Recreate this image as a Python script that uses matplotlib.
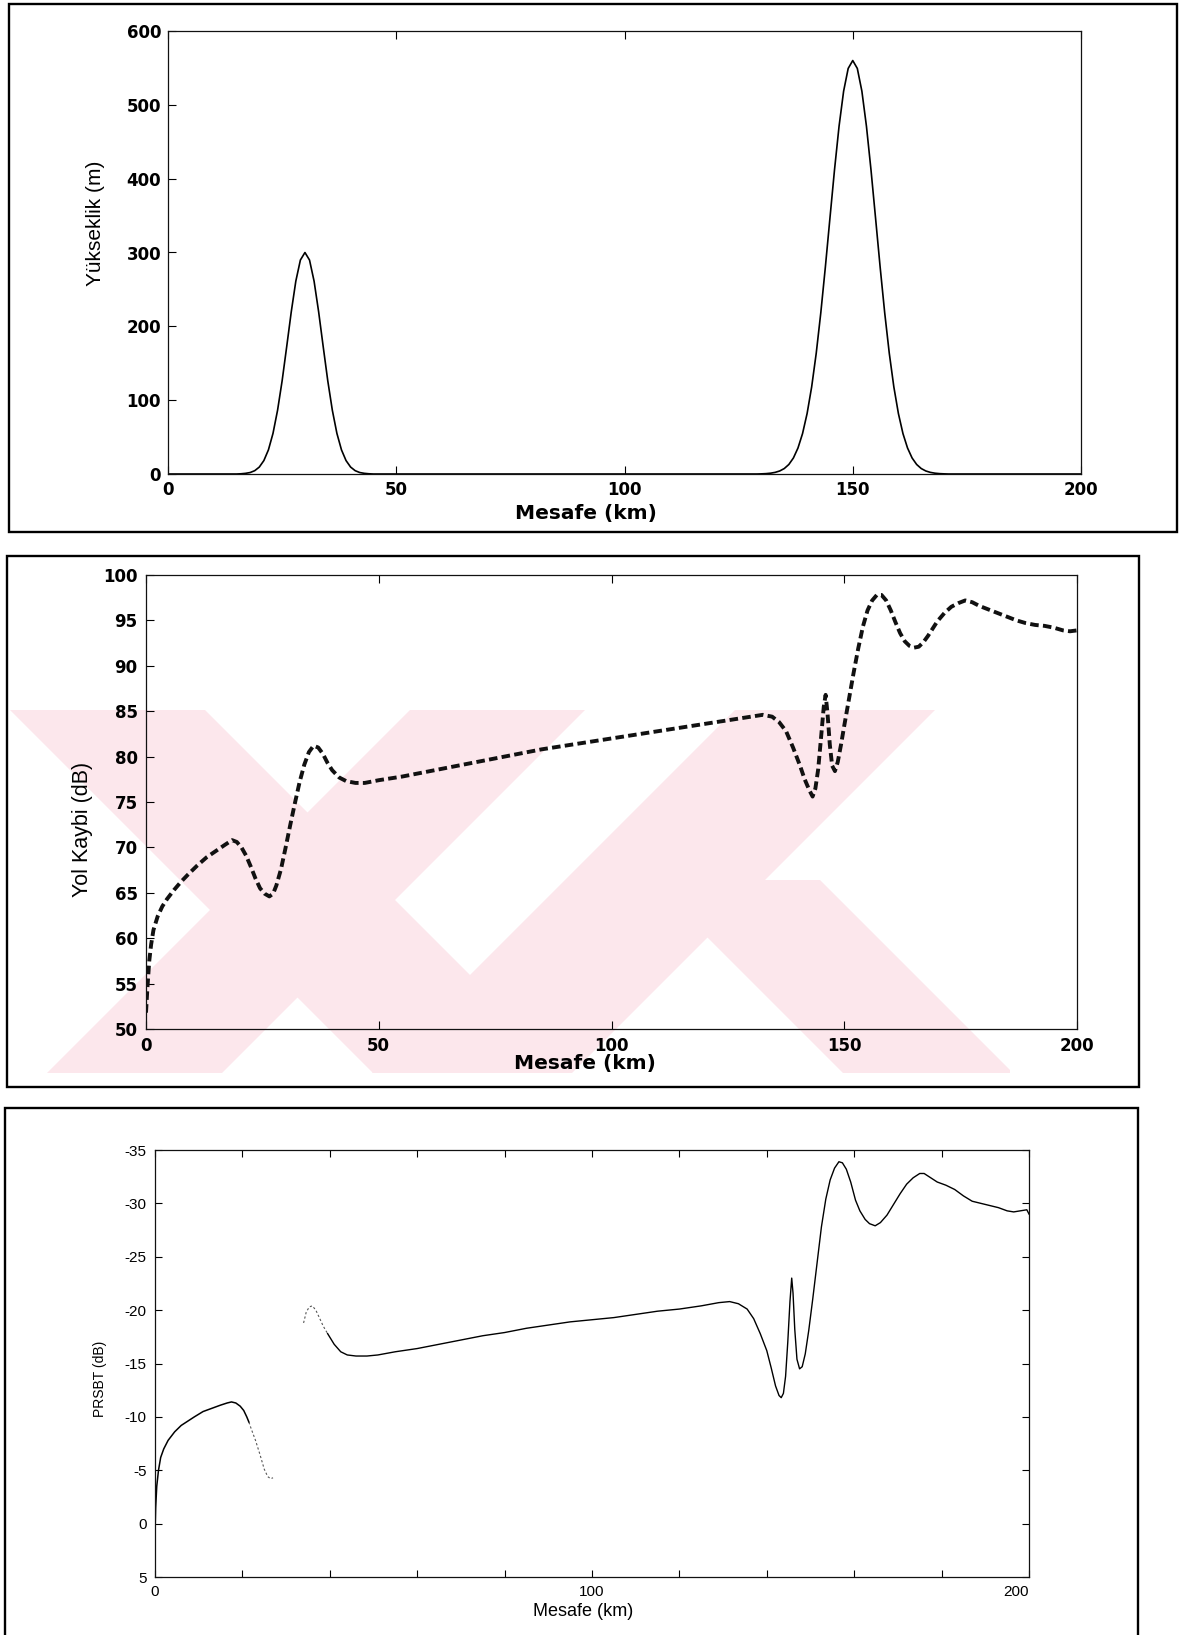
import matplotlib
matplotlib.use("Agg")
import matplotlib.pyplot as plt
import matplotlib.transforms as mtransforms
from matplotlib.patches import Rectangle, Polygon
from matplotlib import font_manager
from matplotlib.ticker import FixedLocator, NullFormatter

plt.rcParams['axes.unicode_minus'] = False

W, H, DPI = 1188, 1635, 100

# ---------------- data ----------------
# Terrain profile: distance (km) and elevation (m)
terrain_km = [0, 10, 15, 16, 17, 18, 19, 20, 21, 22, 23, 24, 25, 26, 27, 28, 29, 30,
              31, 32, 33, 34, 35, 36, 37, 38, 39, 40, 41, 42, 43, 44, 45, 60, 100, 125, 129,
              130, 131, 132, 133, 134, 135, 136, 137, 138, 139, 140, 141, 142, 143, 144,
              145, 146, 147, 148, 149, 150, 151, 152, 153, 154, 155, 156, 157, 158, 159,
              160, 161, 162, 163, 164, 165, 166, 167, 168, 169, 170, 171, 180, 200]
terrain_m = [0, 0, 0, 0.3, 0.9, 2.0, 4.5, 9.4, 18.2, 32.7, 55.0, 86.3, 126.2, 172.4, 219.6,
             261.2, 289.8, 300, 289.8, 261.2, 219.6, 172.4, 126.2, 86.3, 55.0, 32.7, 18.2,
             9.4, 4.5, 2.0, 0.9, 0.3, 0, 0, 0, 0, 0,
             0.2, 0.5, 1.1, 2.2, 4.1, 7.4, 12.9, 21.7, 35.2, 54.7, 81.9, 118.0, 163.6,
             218.3, 280.3, 346.3, 411.7, 471.0, 518.5, 549.3, 560, 549.3, 518.5, 471.0,
             411.7, 346.3, 280.3, 218.3, 163.6, 118.0, 81.9, 54.7, 35.2, 21.7, 12.9, 7.4,
             4.1, 2.2, 1.1, 0.5, 0.2, 0, 0, 0]

# Path loss along the path: distance (km) and loss (dB)
loss_km = [0.0, 0.3, 0.7, 1.1, 1.6, 2.5, 3.5, 4.5, 6.0, 7.5, 9.0, 11.0, 13.0, 15.0, 17.0,
           18.5, 19.5, 20.5, 21.5, 22.5, 23.5, 24.5, 25.5, 26.5, 27.3, 28.0, 29.0, 30.0,
           31.0, 32.0, 33.0, 34.0, 35.0, 36.0, 37.0, 38.0, 39.0, 40.0, 41.5, 43.0, 45.0,
           47.0, 50.0, 55.0, 60.0, 65.0, 70.0, 75.0, 80.0, 85.0, 90.0, 95.0, 100.0, 105.0,
           110.0, 115.0, 120.0, 125.0, 130.0, 132.5, 134.5, 136.0, 137.5, 139.0, 140.5,
           141.5, 142.5, 143.2, 143.8, 144.4, 145.0, 145.6, 146.0, 146.4, 146.9, 147.4,
           148.0, 148.6, 149.3, 150.0, 151.0, 152.0, 153.0, 154.0, 155.0, 156.0, 157.0,
           158.0, 159.0, 160.0, 161.0, 162.0, 163.0, 164.0, 165.0, 166.0, 167.0, 168.0,
           169.0, 170.0, 171.5, 173.0, 174.5, 176.0, 177.5, 179.0, 181.0, 183.0, 185.0,
           187.0, 189.0, 191.0, 193.0, 195.0, 197.0, 198.5, 200.0]
loss_db = [51.8, 54.5, 57.5, 59.3, 60.9, 62.4, 63.5, 64.3, 65.3, 66.2, 67.0, 68.0, 68.9,
           69.6, 70.3, 70.8, 70.6, 70.0, 69.1, 67.9, 66.6, 65.5, 64.9, 64.6, 64.9, 65.8,
           67.6, 70.0, 72.5, 74.9, 77.2, 79.1, 80.5, 81.2, 81.0, 80.3, 79.3, 78.5, 77.7,
           77.3, 77.1, 77.1, 77.4, 77.8, 78.3, 78.8, 79.3, 79.8, 80.3, 80.8, 81.2, 81.6,
           82.0, 82.4, 82.8, 83.2, 83.6, 84.0, 84.4, 84.6, 84.4, 83.8, 82.8, 81.0, 79.0,
           77.5, 76.3, 75.6, 76.5, 78.6, 82.0, 85.5, 86.8, 84.8, 81.3, 79.0, 78.4, 79.4,
           81.3, 83.4, 86.3, 89.2, 91.9, 94.3, 96.1, 97.2, 97.8, 97.8, 97.2, 96.1, 94.8,
           93.6, 92.7, 92.2, 92.0, 92.1, 92.6, 93.3, 94.1, 94.9, 95.8, 96.5, 96.9, 97.2,
           97.0, 96.6, 96.2, 95.8, 95.4, 95.0, 94.7, 94.5, 94.4, 94.2, 93.9, 93.8, 93.9]

# PRSBT (dB): solid near-path part, faint parts and the main far part
prsbt_near_km = [0.0, 0.15, 0.4, 0.8, 1.3, 2.0, 3.0, 4.5, 6.0, 7.5, 9.0, 11.0, 13.0, 15.0,
                 16.5, 17.5, 18.5, 19.5, 20.3, 21.0, 21.5]
prsbt_near_db = [1.0, -1.5, -3.5, -5.0, -6.2, -7.0, -7.8, -8.6, -9.2, -9.6, -10.0, -10.5,
                 -10.8, -11.1, -11.3, -11.4, -11.3, -11.0, -10.6, -10.0, -9.5]
prsbt_fade1_km = [21.5, 22.0, 23.0, 24.0, 25.0, 25.8, 26.5, 27.0]
prsbt_fade1_db = [-9.5, -8.9, -7.8, -6.5, -5.1, -4.4, -4.2, -4.3]
prsbt_fade2_km = [34.0, 34.6, 35.3, 36.0, 36.8, 37.6, 38.5, 39.5]
prsbt_fade2_db = [-18.8, -19.8, -20.3, -20.4, -20.0, -19.3, -18.5, -17.8]
prsbt_far_km = [39.5, 41.0, 42.5, 44.0, 46.0, 48.5, 51.0, 55.0, 60.0, 65.0, 70.0, 75.0,
                80.0, 85.0, 90.0, 95.0, 100.0, 105.0, 110.0, 115.0, 120.0, 125.0, 129.0,
                131.5, 133.5, 135.5, 137.0, 138.5, 140.0, 141.0, 142.0, 142.8, 143.3,
                143.8, 144.3, 144.8, 145.3, 145.7, 146.0, 146.4, 146.9, 147.5, 148.1,
                148.8, 149.6, 150.5, 151.5, 152.5, 153.5, 154.5, 155.5, 156.5, 157.3,
                158.2, 159.2, 160.3, 161.3, 162.5, 163.5, 164.8, 166.0, 167.5, 169.0,
                170.5, 172.0, 173.5, 175.0, 176.0, 177.5, 179.0, 181.0, 183.0, 185.0,
                187.0, 189.0, 191.0, 193.0, 195.0, 196.5, 198.0, 199.5, 200.0]
prsbt_far_db = [-17.8, -16.8, -16.1, -15.8, -15.7, -15.7, -15.8, -16.1, -16.4, -16.8,
                -17.2, -17.6, -17.9, -18.3, -18.6, -18.9, -19.1, -19.3, -19.6, -19.9,
                -20.1, -20.4, -20.7, -20.8, -20.6, -20.1, -19.2, -17.8, -16.2, -14.6,
                -12.9, -12.0, -11.8, -12.2, -13.8, -17.0, -20.8, -23.0, -21.6, -18.2,
                -15.4, -14.5, -14.7, -15.9, -18.1, -21.0, -24.4, -27.8, -30.4, -32.2,
                -33.3, -33.9, -33.8, -33.2, -32.0, -30.3, -29.3, -28.5, -28.1, -27.9,
                -28.2, -28.9, -29.9, -30.9, -31.8, -32.4, -32.8, -32.8, -32.4, -32.0,
                -31.7, -31.3, -30.7, -30.2, -30.0, -29.8, -29.6, -29.3, -29.2, -29.3,
                -29.4, -29.0]

dist_ticks = [0, 50, 100, 150, 200]
height_ticks = [0, 100, 200, 300, 400, 500, 600]
loss_ticks = [50, 55, 60, 65, 70, 75, 80, 85, 90, 95, 100]
prsbt_ticks = [-35, -30, -25, -20, -15, -10, -5, 0, 5]
prsbt_major_x = [0, 100, 200]
prsbt_minor_x = [20, 40, 60, 80, 120, 140, 160, 180]


# ---------------- helpers ----------------
def pick_family(names, default):
    for name in names:
        try:
            font_manager.findfont(font_manager.FontProperties(family=name),
                                  fallback_to_default=False)
            return name
        except Exception:
            continue
    return default


NARROW = pick_family(['Liberation Sans Narrow', 'DejaVu Sans Condensed'], 'Liberation Sans')
WIDE = 'DejaVu Sans'
PLAIN = 'Liberation Sans'


def px_rect(left, top, right, bottom):
    return [left / W, 1 - bottom / H, (right - left) / W, (bottom - top) / H]


def px_pt(x, y):
    return (x / W, 1 - y / H)


fig = plt.figure(figsize=(W / DPI, H / DPI), dpi=DPI)
fig.patch.set_facecolor('white')

# faint pink emblem behind the middle panel
pink = '#fce7ec'
clip = Rectangle(px_pt(8, 1073), (1010 - 8) / W, (1073 - 710) / H,
                 transform=fig.transFigure, visible=False)
fig.add_artist(clip)
drop = 363
emblem = [
    [(10, 710), (205, 710), (205 + drop, 1073), (10 + drop, 1073)],
    [(410, 710), (585, 710), (585 - drop, 1073), (410 - drop, 1073)],
    [(735, 710), (935, 710), (935 - drop, 1073), (735 - drop, 1073)],
    [(650, 880), (820, 880), (1013, 1073), (843, 1073)],
]
for poly in emblem:
    p = Polygon([px_pt(x, y) for x, y in poly], closed=True, transform=fig.transFigure,
                facecolor=pink, edgecolor='none', zorder=0)
    p.set_clip_path(clip)
    fig.add_artist(p)

# outer frames around each panel
for (l, t, r, b) in [(9, 4, 1177, 532), (7, 556, 1139, 1087), (5, 1108, 1138, 1700)]:
    fig.add_artist(Rectangle(px_pt(l, b), (r - l) / W, (b - t) / H,
                             transform=fig.transFigure, fill=False,
                             edgecolor='black', linewidth=1.7, zorder=5))


def style_axes(ax):
    ax.set_facecolor('none')
    for s in ax.spines.values():
        s.set_linewidth(0.9)
        s.set_color('#111111')


# ---------------- panel 1: terrain ----------------
ax1 = fig.add_axes(px_rect(168, 31, 1081, 474))
style_axes(ax1)
ax1.plot(terrain_km, terrain_m, color='black', linewidth=1.2)
ax1.set_xlim(0, 200)
ax1.set_ylim(0, 600)
ax1.set_xticks(dist_ticks)
ax1.set_yticks(height_ticks)
ax1.tick_params(direction='in', length=6, width=0.8, top=True, right=False, pad=5)
for lab in ax1.get_xticklabels() + ax1.get_yticklabels():
    lab.set_fontfamily(WIDE)
    lab.set_fontweight('bold')
    lab.set_fontsize(12)
ax1.set_xlabel('Mesafe (km)', fontfamily=WIDE, fontweight='bold', fontsize=14.5)
ax1.set_ylabel('Yükseklik (m)', fontfamily=NARROW, fontsize=15)
ax1.xaxis.set_label_coords(0.458, -0.068)
ax1.yaxis.set_label_coords(-0.069, 0.565)

# ---------------- panel 2: path loss ----------------
ax2 = fig.add_axes(px_rect(146, 575, 1077, 1029))
style_axes(ax2)
ax2.plot(loss_km, loss_db, color='#111111', linewidth=2.8,
         linestyle=(0, (2.2, 1.1)), dash_capstyle='butt')
ax2.set_xlim(0, 200)
ax2.set_ylim(50, 100)
ax2.set_xticks(dist_ticks)
ax2.set_yticks(loss_ticks)
ax2.tick_params(direction='in', length=6, width=0.8, top=True, right=False, pad=6)
for lab in ax2.get_xticklabels() + ax2.get_yticklabels():
    lab.set_fontfamily(WIDE)
    lab.set_fontweight('bold')
    lab.set_fontsize(12)
ax2.set_xlabel('Mesafe (km)', fontfamily=WIDE, fontweight='bold', fontsize=14.5)
ax2.set_ylabel('Yol Kaybi (dB)', fontfamily=NARROW, fontsize=15.5)
ax2.xaxis.set_label_coords(0.472, -0.055)
ax2.yaxis.set_label_coords(-0.057, 0.44)

# ---------------- panel 3: PRSBT ----------------
ax3 = fig.add_axes(px_rect(155, 1150, 1029, 1577))
style_axes(ax3)
ax3.plot(prsbt_near_km, prsbt_near_db, color='black', linewidth=1.1)
ax3.plot(prsbt_fade1_km, prsbt_fade1_db, color='#555555', linewidth=0.8,
         linestyle=(0, (2, 2)))
ax3.plot(prsbt_fade2_km, prsbt_fade2_db, color='#555555', linewidth=0.8,
         linestyle=(0, (2, 2)))
ax3.plot(prsbt_far_km, prsbt_far_db, color='black', linewidth=1.0)
ax3.set_xlim(0, 200)
ax3.set_ylim(5, -35)
ax3.xaxis.set_major_locator(FixedLocator(prsbt_major_x))
ax3.xaxis.set_minor_locator(FixedLocator(prsbt_minor_x))
ax3.xaxis.set_minor_formatter(NullFormatter())
ax3.set_yticks(prsbt_ticks)
ax3.tick_params(which='both', direction='in', length=5, width=0.8,
                top=True, right=True, pad=6)
for lab in ax3.get_xticklabels() + ax3.get_yticklabels():
    lab.set_fontfamily(PLAIN)
    lab.set_fontsize(11)
# the last distance label sits slightly inside the axis end
last = ax3.xaxis.get_major_ticks()[-1].label1
last.set_transform(last.get_transform() +
                   mtransforms.ScaledTranslation(-13 / DPI, 0, fig.dpi_scale_trans))
ax3.set_xlabel('Mesafe (km)', fontfamily=PLAIN, fontsize=13)
ax3.set_ylabel('PRSBT (dB)', fontfamily=PLAIN, fontsize=10)
ax3.xaxis.set_label_coords(0.49, -0.062)
ax3.yaxis.set_label_coords(-0.055, 0.465)

fig.savefig('out.png', dpi=DPI, facecolor='white')
